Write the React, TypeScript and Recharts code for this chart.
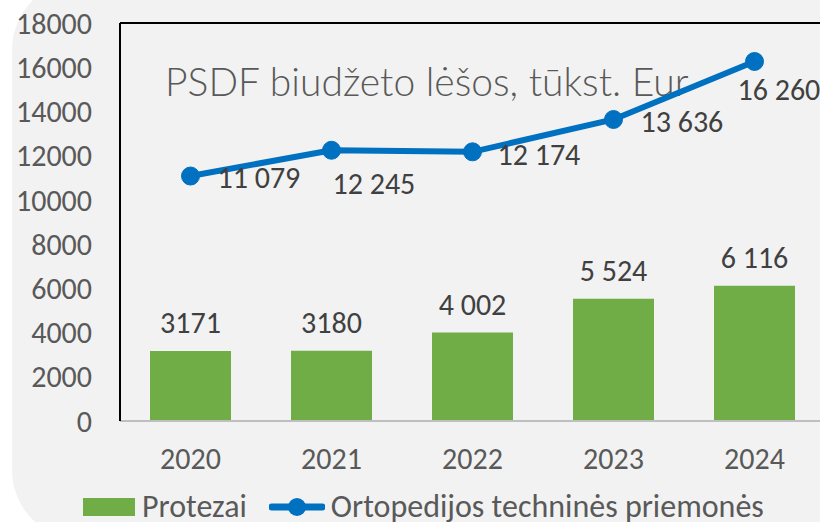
import {
	Bar,
	ComposedChart,
	LabelList,
	Line,
	ReferenceLine,
	XAxis,
	YAxis,
} from 'recharts';

const years = ['2020', '2021', '2022', '2023', '2024'];
const protezai = [3171, 3180, 4002, 5524, 6116];
const protezaiLabels = ['3171', '3180', '4 002', '5 524', '6 116'];
const priemones = [11079, 12245, 12174, 13636, 16260];
const priemonesLabels = ['11 079', '12 245', '12 174', '13 636', '16 260'];
const yTicks = [0, 2000, 4000, 6000, 8000, 10000, 12000, 14000, 16000, 18000];

// hand-placed label offsets, like in the original sheet
const lineLabelDx = [27, 1, 25, 27, -17];
const lineLabelDy = [1, 33, 3, 2, 28];

const data = years.map((year, i) => ({
	year,
	protezai: protezai[i],
	priemones: priemones[i],
}));

const font = 'Carlito, Calibri, Lato, sans-serif';

const LineLabel = (props: any) => {
	const { x, y, index } = props;
	return (
		<text
			x={x + lineLabelDx[index]}
			y={y + lineLabelDy[index]}
			dy="0.35em"
			fontSize={30}
			fill="#404040"
			textAnchor="start"
		>
			{priemonesLabels[index]}
		</text>
	);
};

export default function App() {
	return (
		<div
			style={{
				position: 'absolute',
				left: 0,
				top: 0,
				width: 820,
				height: 522,
				overflow: 'hidden',
				background: '#fff',
				fontFamily: font,
			}}
		>
			<div
				style={{
					position: 'absolute',
					left: 12,
					top: -20,
					width: 1000,
					height: 560,
					borderRadius: 70,
					background: '#F2F2F2',
				}}
			/>
			<div
				style={{
					position: 'absolute',
					left: 165,
					top: 58,
					fontSize: 39,
					fontFamily: 'Lato, Carlito, sans-serif',
					fontWeight: 300,
					color: '#595959',
					whiteSpace: 'nowrap',
				}}
			>
				PSDF biudžeto lėšos, tūkst. Eur
			</div>
			<div style={{ position: 'absolute', left: 0, top: 0 }}>
				<ComposedChart
					width={840}
					height={522}
					data={data}
					margin={{ top: 23, right: 15, left: 0, bottom: 41 }}
				>
					<XAxis
						dataKey="year"
						height={60}
						tickLine={false}
						tickSize={0}
						tickMargin={27}
						axisLine={{ stroke: '#BFBFBF', strokeWidth: 2 }}
						tick={{ fontSize: 30, fill: '#595959' }}
					/>
					<YAxis
						width={120}
						domain={[0, 18000]}
						ticks={yTicks}
						interval={0}
						tickLine={false}
						tickSize={0}
						tickMargin={28}
						axisLine={{ stroke: '#000', strokeWidth: 2 }}
						tick={{ fontSize: 30, fill: '#595959' }}
					/>
					<ReferenceLine y={18000} stroke="#000" strokeWidth={2} />
					<Bar
						dataKey="protezai"
						fill="#70AD47"
						barSize={81}
						isAnimationActive={false}
					>
						<LabelList
							dataKey="protezai"
							content={(p: any) => (
								<text
									x={p.x + p.width / 2}
									y={p.y - 18}
									textAnchor="middle"
									fontSize={30}
									fill="#404040"
								>
									{protezaiLabels[p.index]}
								</text>
							)}
						/>
					</Bar>
					<Line
						dataKey="priemones"
						stroke="#0070C0"
						strokeWidth={6}
						dot={{ r: 9, fill: '#0070C0', stroke: '#0070C0', strokeWidth: 1 }}
						isAnimationActive={false}
					>
						<LabelList dataKey="priemones" content={LineLabel} />
					</Line>
				</ComposedChart>
			</div>
			<div
				style={{
					position: 'absolute',
					left: 83,
					top: 487,
					display: 'flex',
					alignItems: 'center',
					fontSize: 32,
					color: '#595959',
					whiteSpace: 'nowrap',
				}}
			>
				<span
					style={{
						display: 'inline-block',
						width: 52,
						height: 18,
						background: '#70AD47',
						marginRight: 7,
					}}
				/>
				<span>Protezai</span>
				<svg width={56} height={24} style={{ marginLeft: 22, marginRight: 6 }}>
					<line
						x1={3}
						y1={12}
						x2={53}
						y2={12}
						stroke="#0070C0"
						strokeWidth={7}
						strokeLinecap="round"
					/>
					<circle cx={28} cy={12} r={9} fill="#0070C0" />
				</svg>
				<span>Ortopedijos techninės priemonės</span>
			</div>
		</div>
	);
}
